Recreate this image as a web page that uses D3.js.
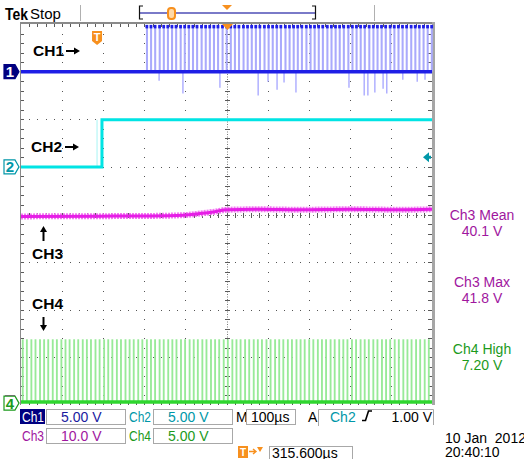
<!DOCTYPE html>
<html>
<head>
<meta charset="utf-8">
<script src="https://cdn.jsdelivr.net/npm/d3@7"></script>
<style>
body { margin: 0; background: #fff; }
svg { display: block; }
text { font-family: "Liberation Sans", Arial, sans-serif; }
</style>
</head>
<body>
<svg width="524" height="459"></svg>
<script>
(function() {
    'use strict';

    // time in microseconds across the 10 divisions (100us/div)
    var ch1PulseTimes = [304, 314, 324, 335, 345, 355, 365, 375, 386, 396, 406, 416, 426, 437, 447, 457,
        467, 477, 488, 498, 508, 518, 528, 539, 549, 559, 569, 579, 590, 600, 610, 620, 630, 641, 651,
        661, 671, 681, 692, 702, 712, 722, 732, 743, 753, 763, 773, 783, 794, 804, 814, 824, 834, 845,
        855, 865, 875, 885, 896, 906, 916, 926, 936, 947, 957, 967, 977, 987, 997];
    var ch1High = 4.75;
    var ch1DipTimes = [336, 394, 484, 577, 601, 623, 640, 669, 798, 835, 844, 861, 881, 890, 929, 964, 983];
    var ch1DipVolts = [-0.95, -2.3, -1.7, -2.5, -1.05, -1.9, -1.15, -2.2, -1.7, -2.5, -2.5, -2.2, -1.8, -2.3, -0.85, -1.05, -0.85];

    var ch2Times = [0, 197, 197, 1000];
    var ch2Volts = [0, 0, 4.94, 4.94];

    var ch3Times = [0, 192, 314, 394, 435, 472, 501, 581, 679, 800, 922, 1000];
    var ch3Volts = [39.6, 39.65, 39.7, 39.85, 40.2, 40.6, 41.0, 41.1, 41.0, 41.1, 41.0, 41.1];

    var ch4PulseTimes = [2, 12, 23, 33, 44, 54, 64, 75, 85, 96, 106, 116, 127, 137, 148, 158, 168, 179,
        189, 200, 210, 220, 231, 241, 252, 262, 272, 283, 293, 304, 314, 324, 335, 345, 356, 366, 376,
        387, 397, 408, 418, 428, 439, 449, 460, 470, 480, 491, 501, 512, 522, 532, 543, 553, 564, 574,
        584, 595, 605, 616, 626, 636, 647, 657, 668, 678, 688, 699, 709, 720, 730, 740, 751, 761, 772,
        782, 792, 803, 813, 824, 834, 844, 855, 865, 876, 886, 896, 907, 917, 928, 938, 948, 959, 969,
        980, 990];
    var ch4High = 6.7;

    var triggerTime = 185;
    var triggerLevel = 1.0;

    var channelNames = ["Ch1", "Ch2", "Ch3", "Ch4"];
    var channelScales = ["5.00 V", "5.00 V", "10.0 V", "5.00 V"];
    var measureNames = ["Ch3 Mean", "Ch3 Max", "Ch4 High"];
    var measureValues = ["40.1 V", "41.8 V", "7.20 V"];
    var timebase = "100\u00b5s";
    var triggerReadout = ["Ch2", "1.00 V"];
    var horizPosition = "315.600\u00b5s";
    var dateLines = ["10 Jan  2012", "20:40:10"];

    var navy = "#000080", blue = "#1e1ee6", lightBlue = "#aaaafc";
    var cyan = "#00e4e4", teal = "#0097a8";
    var magenta = "#e61ee6", purple = "#a0169e";
    var green = "#2fd62f", lightGreen = "#98ea98", darkGreen = "#1c9a1c";
    var orange = "#f7901e";

    var svg = d3.select("svg");
    var gl = 21, gr = 432, gt = 24, gb = 405;

    var x = d3.scaleLinear().domain([0, 1000]).range([gl, gr]);
    var divX = d3.scaleLinear().domain([0, 10]).range([gl, gr]);
    var divY = d3.scaleLinear().domain([-4, 4]).range([gb, gt]);
    function chY(vpd, off) { return function(v) { return divY(v / vpd + off); }; }
    var y1 = chY(5, 3), y2 = chY(5, 1), y3 = chY(10, -4), y4 = chY(5, -3.96);

    // ---- graticule
    var grid = svg.append("g").attr("fill", "#555");
    d3.range(1, 10).forEach(function(i) {
        if (i === 5) return;
        d3.range(1, 40).forEach(function(j) {
            grid.append("rect").attr("x", Math.round(divX(i))).attr("y", Math.round(divY(-4 + j / 5)))
                .attr("width", 1).attr("height", 1);
        });
    });
    d3.range(1, 8).forEach(function(j) {
        if (j === 4) return;
        d3.range(1, 50).forEach(function(i) {
            grid.append("rect").attr("x", Math.round(divX(i / 5))).attr("y", Math.round(divY(-4 + j)))
                .attr("width", 1).attr("height", 1);
        });
    });
    var cx = Math.round(divX(5)), cy = Math.round(divY(0));
    svg.append("line").attr("x1", cx + 0.5).attr("x2", cx + 0.5).attr("y1", gt).attr("y2", gb)
        .attr("stroke", "#7a7a7a").attr("stroke-dasharray", "1 1.5");
    svg.append("line").attr("x1", gl).attr("x2", gr).attr("y1", cy + 0.5).attr("y2", cy + 0.5)
        .attr("stroke", "#7a7a7a").attr("stroke-dasharray", "1 3");
    var ticks = svg.append("g").attr("stroke", "#5a5a5a").attr("stroke-width", 1);
    d3.range(1, 40).forEach(function(j) {
        var yy = Math.round(divY(-4 + j / 5)) + 0.5;
        ticks.append("line").attr("x1", cx - 2).attr("x2", cx + 3).attr("y1", yy).attr("y2", yy);
        ticks.append("line").attr("x1", gl).attr("x2", gl + 3).attr("y1", yy).attr("y2", yy);
        ticks.append("line").attr("x1", gr - 4).attr("x2", gr).attr("y1", yy).attr("y2", yy);
    });
    d3.range(1, 50).forEach(function(i) {
        var xx = Math.round(divX(i / 5)) + 0.5;
        ticks.append("line").attr("x1", xx).attr("x2", xx).attr("y1", cy - 2).attr("y2", cy + 3);
        ticks.append("line").attr("x1", xx).attr("x2", xx).attr("y1", gt).attr("y2", gt + 3);
        ticks.append("line").attr("x1", xx).attr("x2", xx).attr("y1", gb - 3).attr("y2", gb);
    });
    svg.append("line").attr("x1", gl - 0.5).attr("x2", gl - 0.5).attr("y1", gt - 2).attr("y2", gb)
        .attr("stroke", "#8a8a8a");
    svg.append("line").attr("x1", gl - 1).attr("x2", gr + 3).attr("y1", gt - 1).attr("y2", gt - 1)
        .attr("stroke", "#8a8a8a").attr("stroke-width", 2);
    svg.append("line").attr("x1", gr + 1.5).attr("x2", gr + 1.5).attr("y1", gt - 2).attr("y2", gb)
        .attr("stroke", "#a6a6a6").attr("stroke-width", 3);

    // ---- CH4 pulses
    svg.append("g").selectAll("rect").data(ch4PulseTimes).enter().append("rect")
        .attr("x", function(d) { return x(d); })
        .attr("width", function(d) { return Math.max(1.7, x(d + 4.5) - x(d)); })
        .attr("y", y4(ch4High))
        .attr("height", y4(0) - y4(ch4High))
        .attr("fill", lightGreen);
    svg.append("line").attr("x1", x(0)).attr("x2", x(1000)).attr("y1", y4(0) - 1).attr("y2", y4(0) - 1)
        .attr("stroke", green).attr("stroke-width", 3.5);

    // ---- CH3
    var ch3Line = d3.line().x(function(d) { return x(d[0]); }).y(function(d) { return y3(d[1]); })
        .curve(d3.curveMonotoneX);
    var ch3Data = d3.zip(ch3Times, ch3Volts);
    svg.append("path").attr("d", ch3Line(ch3Data)).attr("fill", "none")
        .attr("stroke", "#f27af2").attr("stroke-width", 6).attr("stroke-dasharray", "2 1");
    svg.append("path").attr("d", ch3Line(ch3Data)).attr("fill", "none")
        .attr("stroke", magenta).attr("stroke-width", 3);

    // ---- CH2
    var ch2Line = d3.line().x(function(d) { return x(d[0]); }).y(function(d) { return y2(d[1]); });
    svg.append("line").attr("x1", x(triggerTime)).attr("x2", x(triggerTime))
        .attr("y1", y2(0)).attr("y2", y2(ch2Volts[2])).attr("stroke", "#a8f4f4").attr("stroke-width", 1);
    svg.append("path").attr("d", ch2Line(d3.zip(ch2Times, ch2Volts))).attr("fill", "none")
        .attr("stroke", cyan).attr("stroke-width", 3);

    // ---- CH1
    var c1 = svg.append("g");
    c1.selectAll(".dip").data(d3.zip(ch1DipTimes, ch1DipVolts)).enter().append("line")
        .attr("x1", function(d) { return x(d[0]); }).attr("x2", function(d) { return x(d[0]); })
        .attr("y1", y1(0)).attr("y2", function(d) { return y1(d[1]); })
        .attr("stroke", "#a4a4ff").attr("stroke-width", 1.3);
    c1.selectAll(".pulse").data(ch1PulseTimes).enter().append("rect")
        .attr("x", function(d) { return x(d); })
        .attr("width", function(d) { return Math.max(1.8, x(d + 5) - x(d)); })
        .attr("y", y1(ch1High)).attr("height", y1(0) - y1(ch1High))
        .attr("fill", lightBlue);
    c1.selectAll(".top").data(ch1PulseTimes).enter().append("rect")
        .attr("x", function(d) { return x(d) - 0.5; })
        .attr("width", 2.8).attr("y", y1(ch1High) - 1.5).attr("height", 3.5)
        .attr("fill", blue);
    c1.append("line").attr("x1", x(0)).attr("x2", x(1000)).attr("y1", y1(0)).attr("y2", y1(0))
        .attr("stroke", blue).attr("stroke-width", 3.5);

    // ---- channel ground markers
    function marker(yy, label, fill, stroke, color) {
        var g = svg.append("g");
        g.append("path")
            .attr("d", "M4," + (yy - 7) + "L15," + (yy - 7) + "L19," + yy + "L15," + (yy + 7) + "L4," + (yy + 7) + "Z")
            .attr("fill", fill).attr("stroke", stroke).attr("stroke-width", 1.2);
        g.append("text").attr("x", 10).attr("y", yy + 5.5).attr("text-anchor", "middle")
            .attr("font-size", 15).attr("font-weight", "bold").attr("fill", color).text(label);
    }
    svg.append("line").attr("x1", 5).attr("x2", 15).attr("y1", y3(0) - 9).attr("y2", y3(0) - 9)
        .attr("stroke", purple).attr("stroke-width", 1.5);
    marker(y1(0), "1", navy, navy, "#fff");
    marker(y2(0), "2", "#fff", teal, teal);
    marker(y4(0), "4", "#fff", darkGreen, darkGreen);

    // trigger level arrow (Ch2)
    var tl = y2(triggerLevel);
    svg.append("path").attr("d", "M423," + tl + "L429," + (tl - 5) + "L429," + (tl - 1.5) + "L431," + (tl - 1.5) +
        "L431," + (tl + 1.5) + "L429," + (tl + 1.5) + "L429," + (tl + 5) + "Z").attr("fill", teal);

    // trigger position markers
    var tx = x(triggerTime);
    svg.append("path").attr("d", "M" + (tx - 5) + ",31h10v10l-5,4l-5,-4Z").attr("fill", orange);
    svg.append("text").attr("x", tx).attr("y", 41).attr("text-anchor", "middle").attr("font-size", 11)
        .attr("font-weight", "bold").attr("fill", "#fff").text("T");
    svg.append("path").attr("d", "M" + (cx - 5) + "," + gt + "h11l-5.5,6Z").attr("fill", orange);

    // ---- annotations
    var ann = svg.append("g").attr("font-weight", "bold").attr("font-size", 15.5).attr("fill", "#000");
    ann.append("text").attr("x", 33).attr("y", 56).text("CH1");
    ann.append("text").attr("x", 31).attr("y", 152).text("CH2");
    ann.append("text").attr("x", 32).attr("y", 259).text("CH3");
    ann.append("text").attr("x", 32).attr("y", 309).text("CH4");
    var arrows = svg.append("g").attr("stroke", "#000").attr("stroke-width", 2).attr("fill", "#000");
    function arrow(x1, y1a, x2, y2a) {
        var a = Math.atan2(y2a - y1a, x2 - x1), L = 6, W = 3.5;
        var bx = x2 - L * Math.cos(a), by = y2a - L * Math.sin(a);
        arrows.append("line").attr("x1", x1).attr("y1", y1a).attr("x2", bx).attr("y2", by);
        arrows.append("path").attr("stroke", "none").attr("d",
            "M" + x2 + "," + y2a + "L" + (bx - W * Math.sin(a)) + "," + (by + W * Math.cos(a)) +
            "L" + (bx + W * Math.sin(a)) + "," + (by - W * Math.cos(a)) + "Z");
    }
    arrow(66, 51, 80, 51);
    arrow(65, 147, 79, 147);
    arrow(43.5, 241, 43.5, 226);
    arrow(43.5, 317, 43.5, 331);

    // ---- measurements
    var mColors = [purple, purple, darkGreen];
    var mY = [220, 287, 354];
    measureNames.forEach(function(n, i) {
        svg.append("text").attr("x", 482).attr("y", mY[i]).attr("text-anchor", "middle")
            .attr("font-size", 14).attr("fill", mColors[i]).text(n);
        svg.append("text").attr("x", 482).attr("y", mY[i] + 16).attr("text-anchor", "middle")
            .attr("font-size", 14).attr("fill", mColors[i]).text(measureValues[i]);
    });

    // ---- top status bar
    svg.append("text").attr("x", 5).attr("y", 20).attr("font-size", 17).attr("font-weight", "bold")
        .attr("textLength", 23).attr("lengthAdjust", "spacingAndGlyphs").text("Tek");
    svg.append("text").attr("x", 30).attr("y", 19).attr("font-size", 15).text("Stop");
    [80, 374].forEach(function(sx) {
        svg.append("line").attr("x1", sx + 0.5).attr("x2", sx + 0.5).attr("y1", 5).attr("y2", 21)
            .attr("stroke", "#b0b0b0");
    });
    svg.append("line").attr("x1", 140).attr("x2", 315).attr("y1", 13).attr("y2", 13)
        .attr("stroke", "#7a7ac8").attr("stroke-width", 2);
    svg.append("path").attr("d", "M143,6H139.5V19H143M312,6H315.5V19H312").attr("fill", "none")
        .attr("stroke", "#111").attr("stroke-width", 1.2);
    svg.append("rect").attr("x", 168).attr("y", 8).attr("width", 7).attr("height", 11).attr("rx", 3)
        .attr("fill", "#ffd9a8").attr("stroke", orange).attr("stroke-width", 2);
    svg.append("path").attr("d", "M" + (cx - 5) + ",5h10l-5,5Z").attr("fill", orange);

    // ---- bottom readouts
    var chColors = [navy, teal, purple, darkGreen];
    var textColors = ["#1a1aa0", teal, purple, darkGreen];
    var rowsY = [409, 428];
    channelNames.forEach(function(n, i) {
        var row = Math.floor(i / 2), col = i % 2;
        var lx = 21 + col * 107, by = rowsY[row];
        if (i === 0) {
            svg.append("rect").attr("x", 20).attr("y", by).attr("width", 25).attr("height", 15).attr("fill", navy);
        }
        svg.append("text").attr("x", lx + 1).attr("y", by + 13).attr("font-size", 14)
            .attr("textLength", 22).attr("lengthAdjust", "spacingAndGlyphs")
            .attr("fill", i === 0 ? "#fff" : chColors[i]).text(n);
        svg.append("rect").attr("x", lx + 25.5).attr("y", by + 0.5).attr("width", 79).attr("height", 15)
            .attr("fill", "#fff").attr("stroke", "#a8a8a8");
        svg.append("text").attr("x", lx + 40).attr("y", by + 13).attr("font-size", 14)
            .attr("fill", textColors[i]).text(channelScales[i]);
    });
    svg.append("text").attr("x", 236).attr("y", 422).attr("font-size", 14).text("M");
    svg.append("rect").attr("x", 246.5).attr("y", 409.5).attr("width", 49).attr("height", 15)
        .attr("fill", "#fff").attr("stroke", "#a8a8a8");
    svg.append("text").attr("x", 251).attr("y", 422).attr("font-size", 14).text(timebase);
    svg.append("text").attr("x", 308).attr("y", 422).attr("font-size", 14).text("A");
    svg.append("path").attr("d", "M318.5,426V409.5H433.5V425").attr("fill", "none").attr("stroke", "#a8a8a8");
    svg.append("text").attr("x", 330).attr("y", 422).attr("font-size", 14).attr("fill", teal).text(triggerReadout[0]);
    svg.append("path").attr("d", "M362,420.5H365.5L368.5,411H372").attr("fill", "none")
        .attr("stroke", "#000").attr("stroke-width", 1.6);
    svg.append("text").attr("x", 432).attr("y", 422).attr("text-anchor", "end").attr("font-size", 14)
        .text(triggerReadout[1]);

    // horizontal position readout
    svg.append("rect").attr("x", 238).attr("y", 446).attr("width", 10).attr("height", 12).attr("fill", orange);
    svg.append("text").attr("x", 243).attr("y", 456).attr("text-anchor", "middle").attr("font-size", 10)
        .attr("font-weight", "bold").attr("fill", "#fff").text("T");
    svg.append("path").attr("d", "M249,451.5H255M253,449l3,2.5l-3,2.5").attr("fill", "none")
        .attr("stroke", orange).attr("stroke-width", 1.4);
    svg.append("path").attr("d", "M257,447h6l-3,5Z").attr("fill", orange);
    svg.append("rect").attr("x", 269.5).attr("y", 446.5).attr("width", 83).attr("height", 15)
        .attr("fill", "#fff").attr("stroke", "#a8a8a8");
    svg.append("text").attr("x", 272).attr("y", 458).attr("font-size", 14).text(horizPosition);

    svg.append("text").attr("x", 445).attr("y", 443).attr("font-size", 14)
        .style("white-space", "pre").text(dateLines[0]);
    svg.append("text").attr("x", 445).attr("y", 457).attr("font-size", 14).text(dateLines[1]);
}());
</script>
</body>
</html>
